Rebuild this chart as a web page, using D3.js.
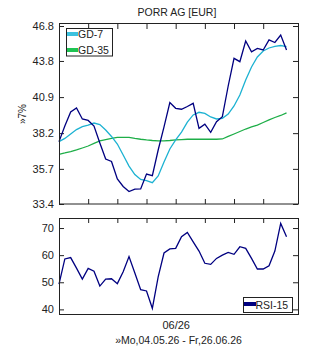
<!DOCTYPE html>
<html>
<head>
<meta charset="utf-8">
<script src="https://cdn.jsdelivr.net/npm/d3@7"></script>
<style>
  body { margin: 0; background: #fff; }
  text { font-family: Arial, "Liberation Sans", sans-serif; fill: #222; }
</style>
</head>
<body>
<div id="chart"></div>
<script>
const title = 'PORR AG [EUR]'
const subtitle = '»Mo,04.05.26 - Fr,26.06.26'
const yLabel = '»7%'

// trading days, Mo 04.05.26 .. Fr 26.06.26
const dates = [
  '2026-05-04','2026-05-05','2026-05-06','2026-05-07','2026-05-08',
  '2026-05-11','2026-05-12','2026-05-13','2026-05-14','2026-05-15',
  '2026-05-18','2026-05-19','2026-05-20','2026-05-21','2026-05-22',
  '2026-05-25','2026-05-26','2026-05-27','2026-05-28','2026-05-29',
  '2026-06-01','2026-06-02','2026-06-03','2026-06-04','2026-06-05',
  '2026-06-08','2026-06-09','2026-06-10','2026-06-11','2026-06-12',
  '2026-06-15','2026-06-16','2026-06-17','2026-06-18','2026-06-19',
  '2026-06-22','2026-06-23','2026-06-24','2026-06-25','2026-06-26'
]
const price = [37.59, 38.72, 39.76, 40.07, 39.24, 39.13, 38.72, 37.49, 36.37, 36.20,
               35.02, 34.53, 34.20, 34.36, 34.37, 35.35, 35.24, 37.00, 38.65, 40.48,
               40.04, 39.97, 40.18, 40.42, 38.55, 38.85, 38.26, 39.04, 39.41, 41.77,
               44.02, 43.74, 45.49, 44.57, 44.86, 44.72, 45.58, 45.36, 46.01, 44.72]
const gd7 = [37.59, 37.82, 38.14, 38.46, 38.68, 38.79, 38.94, 38.83, 38.43, 37.96,
             37.42, 36.65, 35.89, 35.32, 34.99, 34.91, 34.78, 35.22, 36.17, 37.07,
             37.71, 38.28, 39.01, 39.54, 39.74, 39.66, 39.39, 39.24, 39.29, 39.61,
             40.22, 41.06, 42.25, 43.30, 44.13, 44.64, 44.89, 45.02, 45.10, 45.00]
const gd35 = [36.70, 36.79, 36.89, 37.00, 37.14, 37.28, 37.46, 37.64, 37.74, 37.83,
              37.89, 37.90, 37.89, 37.82, 37.76, 37.71, 37.67, 37.65, 37.64, 37.67,
              37.71, 37.74, 37.76, 37.76, 37.76, 37.76, 37.76, 37.76, 37.78, 37.96,
              38.14, 38.32, 38.50, 38.65, 38.79, 38.98, 39.17, 39.35, 39.50, 39.69]
const rsi15 = [49.3, 58.6, 59.1, 55.2, 51.2, 55.1, 54.1, 48.6, 51.2, 51.3,
               49.5, 53.9, 59.5, 53.4, 47.3, 46.8, 40.4, 52.0, 60.8, 62.3,
               62.5, 66.8, 68.4, 64.9, 61.5, 57.0, 56.6, 58.8, 60.0, 61.0,
               60.3, 63.1, 62.5, 58.8, 54.9, 54.9, 56.1, 61.5, 71.7, 66.8]
const priceTicks = [33.4, 35.7, 38.2, 40.9, 43.8, 46.8]
const rsiTicks = [40, 50, 60, 70]

const width = 310, height = 350
const left = 59, right = 298
const top1 = 24, bottom1 = 204, top2 = 218, bottom2 = 314
const color = { price: '#000080', gd7: '#1cb2d2', gd35: '#1eae48', gd7Key: '#3cc2de', gd35Key: '#1ec452', frame: '#222' }

const parse = d3.timeParse('%Y-%m-%d')
const days = dates.map(parse)
// weekly ticks on Mondays, month label where a new month starts
const weekTicks = d3.range(days.length).filter(i => days[i].getDay() === 1)
const monthTicks = weekTicks.filter(i => i > 0 && days[i].getMonth() !== days[i - 1].getMonth())

const svg = d3.select('#chart').append('svg')
  .attr('width', width)
  .attr('height', height)

const x = d3.scaleLinear().domain([0, 41]).range([left, 298.2])
const yP = d3.scaleLog().domain([33.4, 46.8]).range([bottom1, 26])
const yR = d3.scaleLinear().domain([38.3, 73.7]).range([bottom2, top2])

svg.append('text')
  .attr('x', 177).attr('y', 16)
  .attr('text-anchor', 'middle')
  .style('font-size', '10.5px')
  .text(title)

svg.append('text')
  .attr('transform', `translate(26, ${(top1 + bottom1) / 2}) rotate(-90)`)
  .attr('text-anchor', 'middle')
  .style('font-size', '10px')
  .text(yLabel)

svg.append('text')
  .attr('x', 178.5).attr('y', 343.5)
  .attr('text-anchor', 'middle')
  .style('font-size', '10.5px')
  .text(subtitle)

function tidy(g, fs) {
  g.select('.domain').remove()
  g.selectAll('.tick line').attr('stroke', color.frame)
  g.selectAll('.tick text').style('font-size', fs).attr('fill', '#222')
}

// ---- price panel
const p1 = svg.append('g')
p1.append('g').attr('transform', `translate(${left},0)`)
  .call(d3.axisLeft(yP).tickValues(priceTicks).tickFormat(d3.format('.1f')).tickSizeInner(-5).tickSizeOuter(0).tickPadding(5))
  .call(g => tidy(g, '11px'))
p1.append('g').attr('transform', `translate(${right},0)`)
  .call(d3.axisRight(yP).tickValues(priceTicks).tickFormat('').tickSizeInner(-5).tickSizeOuter(0))
  .call(g => tidy(g, '11px'))
p1.append('g').attr('transform', `translate(0,${top1})`)
  .call(d3.axisTop(x).tickValues(weekTicks).tickFormat('').tickSizeInner(-5).tickSizeOuter(0))
  .call(g => tidy(g, '11px'))
p1.append('g').attr('transform', `translate(0,${bottom1})`)
  .call(d3.axisBottom(x).tickValues(weekTicks).tickFormat('').tickSizeInner(-5).tickSizeOuter(0))
  .call(g => tidy(g, '11px'))

const lineP = d3.line().x((d, i) => x(i)).y(d => yP(d))
const series = [
  { values: gd35, stroke: color.gd35 },
  { values: gd7, stroke: color.gd7 },
  { values: price, stroke: color.price }
]
p1.selectAll('path.series')
  .data(series)
  .enter()
  .append('path')
  .attr('class', 'series')
  .attr('d', d => lineP(d.values))
  .attr('fill', 'none')
  .attr('stroke', d => d.stroke)
  .attr('stroke-width', 1.3)

p1.append('rect')
  .attr('x', left + 0.5).attr('y', top1 - 0.5)
  .attr('width', right - left).attr('height', bottom1 - top1 + 0.5)
  .attr('fill', 'none').attr('stroke', color.frame)

// legend GD-7 / GD-35
const legend = p1.append('g')
legend.append('rect')
  .attr('x', 66.5).attr('y', 28.5).attr('width', 46).attr('height', 27.5)
  .attr('fill', '#fff').attr('stroke', color.frame)
const keys = [{ name: 'GD-7', stroke: color.gd7Key }, { name: 'GD-35', stroke: color.gd35Key }]
keys.forEach((k, i) => {
  legend.append('line')
    .attr('x1', 67).attr('x2', 78)
    .attr('y1', 34 + i * 16).attr('y2', 34 + i * 16)
    .attr('stroke', k.stroke).attr('stroke-width', 4)
  legend.append('text')
    .attr('x', 78).attr('y', 38.3 + i * 15.5)
    .style('font-size', '10.5px')
    .text(k.name)
})

// ---- RSI panel
const p2 = svg.append('g')
p2.append('g').attr('transform', `translate(${left},0)`)
  .call(d3.axisLeft(yR).tickValues(rsiTicks).tickSizeInner(-5).tickSizeOuter(0).tickPadding(5))
  .call(g => tidy(g, '11px'))
p2.append('g').attr('transform', `translate(${right},0)`)
  .call(d3.axisRight(yR).tickValues(rsiTicks).tickFormat('').tickSizeInner(-5).tickSizeOuter(0))
  .call(g => tidy(g, '11px'))
p2.append('g').attr('transform', `translate(0,${top2})`)
  .call(d3.axisTop(x).tickValues(weekTicks).tickFormat('').tickSizeInner(-5).tickSizeOuter(0))
  .call(g => tidy(g, '11px'))
p2.append('g').attr('transform', `translate(0,${bottom2})`)
  .call(d3.axisBottom(x).tickValues(monthTicks).tickFormat(i => d3.timeFormat('%m/%y')(days[i])).tickSize(0).tickPadding(7))
  .call(g => tidy(g, '11px'))

p2.append('path')
  .attr('d', d3.line().x((d, i) => x(i)).y(d => yR(d))(rsi15))
  .attr('fill', 'none')
  .attr('stroke', color.price)
  .attr('stroke-width', 1.3)

p2.append('rect')
  .attr('x', left + 0.5).attr('y', top2 + 0.5)
  .attr('width', right - left).attr('height', bottom2 - top2)
  .attr('fill', 'none').attr('stroke', color.frame)

const rsiKey = p2.append('g')
rsiKey.append('rect')
  .attr('x', 243.5).attr('y', 297.5).attr('width', 49).attr('height', 15)
  .attr('fill', '#fff').attr('stroke', color.frame)
rsiKey.append('line')
  .attr('x1', 244).attr('x2', 256).attr('y1', 304).attr('y2', 304)
  .attr('stroke', color.price).attr('stroke-width', 4)
rsiKey.append('text')
  .attr('x', 255.5).attr('y', 308.5)
  .style('font-size', '10.5px')
  .text('RSI-15')
</script>
</body>
</html>
